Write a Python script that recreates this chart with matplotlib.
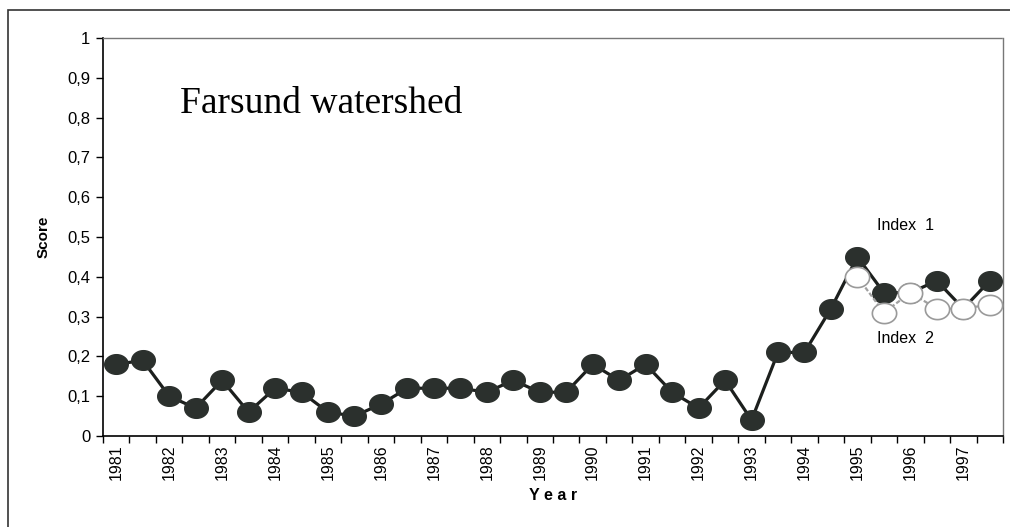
import numpy as np
import matplotlib
matplotlib.use('Agg')
import matplotlib.pyplot as plt
from matplotlib.patches import Rectangle
from matplotlib.path import Path

# Data: two half-year scores per year, 1981-1997
years = list(range(1981, 1998))
index1 = [0.18, 0.19, 0.10, 0.07, 0.14, 0.06, 0.12, 0.11, 0.06, 0.05,
          0.08, 0.12, 0.12, 0.12, 0.11, 0.14, 0.11, 0.11, 0.18, 0.14,
          0.18, 0.11, 0.07, 0.14, 0.04, 0.21, 0.21, 0.32, 0.45, 0.36,
          0.36, 0.39, 0.32, 0.39]
index2_start = 28
index2 = [0.40, 0.31, 0.36, 0.32, 0.32, 0.33]
yticks = [0, 0.1, 0.2, 0.3, 0.4, 0.5, 0.6, 0.7, 0.8, 0.9, 1.0]
ytick_labels = ['0', '0,1', '0,2', '0,3', '0,4', '0,5', '0,6', '0,7', '0,8', '0,9', '1']

plt.rcParams['font.family'] = ['Liberation Sans', 'DejaVu Sans']

# slightly wide ellipse marker, like the scanned original
t = np.linspace(0, 2*np.pi, 60)
ellipse = Path(np.column_stack([1.2*np.cos(t), np.sin(t)]), closed=True)

fig = plt.figure(figsize=(10.10, 5.27), dpi=100)
ax = fig.add_axes([103/1010, 91/527, 900/1010, 398/527])

x1 = np.arange(len(index1))
x2 = np.arange(index2_start, index2_start + len(index2))

ax.plot(x1, index1, color='#1c1f1d', lw=2.3, marker=ellipse, ms=17,
        mfc='#2b302d', mec='#2b302d', zorder=3)
ax.plot(x2, index2, color='#a0a0a0', lw=1.6, ls=(0, (2, 1)), marker=ellipse, ms=17.5,
        mfc='white', mec='#9a9a9a', mew=1.2, zorder=4)

ax.set_xlim(-0.5, len(index1) - 0.5)
ax.set_ylim(0, 1)

ax.set_yticks(yticks)
ax.set_yticklabels(ytick_labels, fontsize=12)
ax.tick_params(axis='y', direction='out', length=5, width=1, pad=4)

ax.set_xticks(np.arange(0, len(index1), 2))
ax.set_xticklabels([str(y) for y in years], rotation=90, fontsize=11.5)
ax.set_xticks(np.arange(-0.5, len(index1), 1), minor=True)
ax.tick_params(axis='x', which='major', length=0, pad=6)
ax.tick_params(axis='x', which='minor', direction='out', length=5, width=1)

ax.spines['left'].set_linewidth(1.2)
ax.spines['bottom'].set_linewidth(1.2)
for s in ['top', 'right']:
    ax.spines[s].set_linestyle((0, (1, 1)))
    ax.spines[s].set_color('#777777')
    ax.spines[s].set_linewidth(1.0)

ax.set_ylabel('Score', fontsize=11, fontweight='bold', labelpad=12)
ax.set_xlabel('Y e a r', fontsize=11.5, fontweight='bold', labelpad=6)

ax.text(2.4, 0.835, 'Farsund watershed', family='Liberation Serif',
        fontsize=27, va='center', ha='left')
ax.text(29.8, 0.53, 'Index  1', fontsize=11.5, ha='center', va='center')
ax.text(29.8, 0.246, 'Index  2', fontsize=11.5, ha='center', va='center')

# outer frame
fig.patches.append(Rectangle((8/1010, -0.1), 1.2, (517/527) + 0.1,
                             transform=fig.transFigure, fill=False,
                             edgecolor='#333333', lw=1.2))

fig.savefig('out.png', dpi=100)
